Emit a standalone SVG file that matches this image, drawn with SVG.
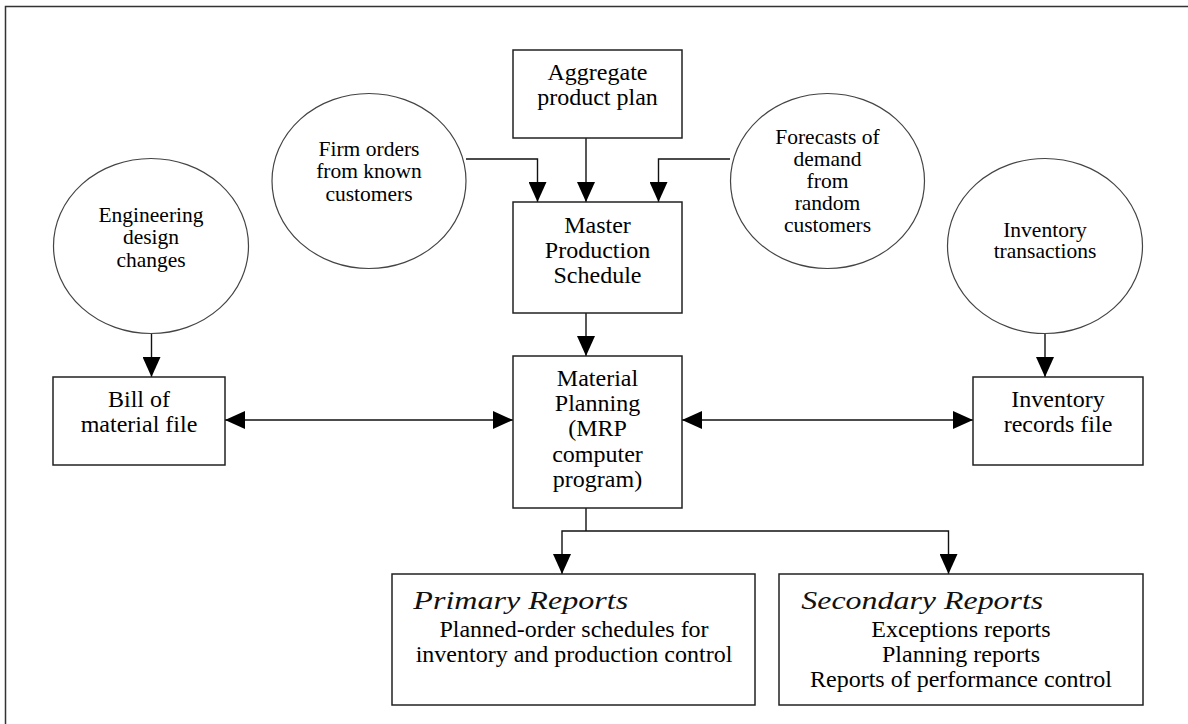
<svg xmlns="http://www.w3.org/2000/svg" width="1188" height="724" viewBox="0 0 1188 724">
<style>
  .box { fill: #ffffff; stroke: #222; stroke-width: 1.5; }
  .circ { fill: #ffffff; stroke: #444; stroke-width: 1.2; }
  .t { font-family: "Liberation Serif", "Times New Roman", serif; font-size: 24px; fill: #000; text-anchor: middle; }
  .tc { font-family: "Liberation Serif", "Times New Roman", serif; font-size: 21.5px; fill: #000; text-anchor: middle; }
  .ti { font-family: "Liberation Serif", "Times New Roman", serif; font-size: 26px; font-style: italic; fill: #111; }
  .conn { fill: none; stroke: #111; stroke-width: 1.4; }
</style>
<defs>
  <marker id="arr" viewBox="0 0 20 18" refX="20" refY="9" markerWidth="20" markerHeight="18" markerUnits="userSpaceOnUse" orient="auto-start-reverse">
    <path d="M0,0 L20,9 L0,18 z" fill="#000"/>
  </marker>
</defs>
<rect x="5.5" y="6.5" width="1200" height="740" fill="none" stroke="#333" stroke-width="1.5"/>

<g id="connectors">
  <path class="conn" d="M466,159 H537.5 V202" marker-end="url(#arr)"/>
  <path class="conn" d="M586,138 V202" marker-end="url(#arr)"/>
  <path class="conn" d="M730,159 H658.5 V202" marker-end="url(#arr)"/>
  <path class="conn" d="M586,313 V356" marker-end="url(#arr)"/>
  <path class="conn" d="M151.5,333.5 V377" marker-end="url(#arr)"/>
  <path class="conn" d="M1045,333.5 V377" marker-end="url(#arr)"/>
  <path class="conn" d="M225,420 H513" marker-start="url(#arr)" marker-end="url(#arr)"/>
  <path class="conn" d="M682,420 H973" marker-start="url(#arr)" marker-end="url(#arr)"/>
  <path class="conn" d="M586,508 V531"/>
  <path class="conn" d="M562,574 V531 H948.5 V574" marker-start="url(#arr)" marker-end="url(#arr)"/>
</g>

<g id="aggregate">
  <rect class="box" x="513" y="50" width="169" height="88"/>
  <text class="t" x="597.5" y="80">Aggregate</text>
  <text class="t" x="597.5" y="105">product plan</text>
</g>

<g id="firm-orders">
  <ellipse class="circ" cx="369" cy="181" rx="97" ry="87.5"/>
  <text class="tc" x="369" y="155.7">Firm orders</text>
  <text class="tc" x="369" y="178">from known</text>
  <text class="tc" x="369" y="201">customers</text>
</g>

<g id="forecasts">
  <ellipse class="circ" cx="827.5" cy="181" rx="97" ry="87.5"/>
  <text class="tc" x="827.5" y="144">Forecasts of</text>
  <text class="tc" x="827.5" y="166">demand</text>
  <text class="tc" x="827.5" y="188.3">from</text>
  <text class="tc" x="827.5" y="210">random</text>
  <text class="tc" x="827.5" y="231.7">customers</text>
</g>

<g id="engineering">
  <ellipse class="circ" cx="151" cy="246" rx="97.5" ry="87.5"/>
  <text class="tc" x="151" y="221.7">Engineering</text>
  <text class="tc" x="151" y="244.3">design</text>
  <text class="tc" x="151" y="266.7">changes</text>
</g>

<g id="inventory-transactions">
  <ellipse class="circ" cx="1045" cy="246" rx="97.5" ry="87.5"/>
  <text class="tc" x="1045" y="236.7">Inventory</text>
  <text class="tc" x="1045" y="258.3">transactions</text>
</g>

<g id="mps">
  <rect class="box" x="513" y="202" width="169" height="111"/>
  <text class="t" x="597.5" y="232.7">Master</text>
  <text class="t" x="597.5" y="257.5">Production</text>
  <text class="t" x="597.5" y="282.7">Schedule</text>
</g>

<g id="material-planning">
  <rect class="box" x="513" y="356" width="169" height="152"/>
  <text class="t" x="597.5" y="385.5">Material</text>
  <text class="t" x="597.5" y="411">Planning</text>
  <text class="t" x="597.5" y="436">(MRP</text>
  <text class="t" x="597.5" y="461.5">computer</text>
  <text class="t" x="597.5" y="487">program)</text>
</g>

<g id="bill-of-material">
  <rect class="box" x="53" y="377" width="172" height="88"/>
  <text class="t" x="139" y="407">Bill of</text>
  <text class="t" x="139" y="432">material file</text>
</g>

<g id="inventory-records">
  <rect class="box" x="973" y="377" width="170" height="88"/>
  <text class="t" x="1058" y="407">Inventory</text>
  <text class="t" x="1058" y="432">records file</text>
</g>

<g id="primary-reports">
  <rect class="box" x="392" y="574" width="363" height="131"/>
  <text class="ti" x="413.3" y="608.7" textLength="215" lengthAdjust="spacingAndGlyphs">Primary Reports</text>
  <text class="t" x="574" y="637">Planned-order schedules for</text>
  <text class="t" x="574" y="662">inventory and production control</text>
</g>

<g id="secondary-reports">
  <rect class="box" x="779" y="574" width="364" height="131"/>
  <text class="ti" x="801.3" y="608.7" textLength="242" lengthAdjust="spacingAndGlyphs">Secondary Reports</text>
  <text class="t" x="961" y="637">Exceptions reports</text>
  <text class="t" x="961" y="662">Planning reports</text>
  <text class="t" x="961" y="687">Reports of performance control</text>
</g>
</svg>
